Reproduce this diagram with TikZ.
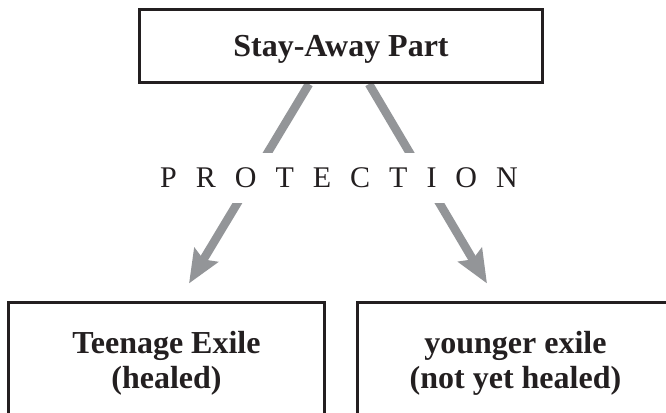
\documentclass[tikz,border=0pt]{standalone}
\usepackage{fontspec}
\setmainfont{Liberation Serif}
\usetikzlibrary{arrows.meta,calc,backgrounds}
\definecolor{ink}{HTML}{231F20}
\definecolor{arrowgrey}{HTML}{939598}
\newcommand{\pgap}{\hspace{9.5pt}}
\tikzset{
  partbox/.style = {draw=ink, fill=white, line width=1.5pt, text=ink, align=center,
                    font=\fontsize{16}{17.5}\selectfont\bfseries, inner sep=0pt},
  flow/.style    = {-{Stealth[length=16.5pt,width=13.5pt,inset=2.5pt]}, draw=arrowgrey, line width=4.25pt},
}

\begin{document}
\begin{tikzpicture}[x=0.5pt,y=-0.5pt]
  \useasboundingbox (0,0) rectangle (666,413);
  \clip (0,0) rectangle (666,413);
  \node[partbox,minimum width=201.5pt,minimum height=36.5pt,text depth=0pt] (stay) at (341,46) {Stay-Away Part};
  \node[partbox,minimum width=158pt,minimum height=60.5pt] (teen) at (166.5,363) {Teenage Exile\\(healed)};
  \node[partbox,minimum width=158pt,minimum height=60.5pt] (young) at (515.5,363) {younger exile\\(not yet healed)};
  \begin{scope}[on background layer]
    \draw[flow] ($(stay.south)+(-32,0)$) -- ($(teen.north)+(22.5,-17.5)$);
    \draw[flow] ($(stay.south)+(28,0)$) -- ($(young.north)+(-28.5,-17.5)$);
  \end{scope}
  % label sits over the two arrows
  \node[fill=white,text=ink,minimum height=25pt,inner xsep=2pt,font=\fontsize{15}{17}\selectfont] (prot) at (339,178)
    {P\pgap R\pgap O\pgap T\pgap E\pgap C\pgap T\pgap I\pgap O\pgap N};
\end{tikzpicture}
\end{document}
